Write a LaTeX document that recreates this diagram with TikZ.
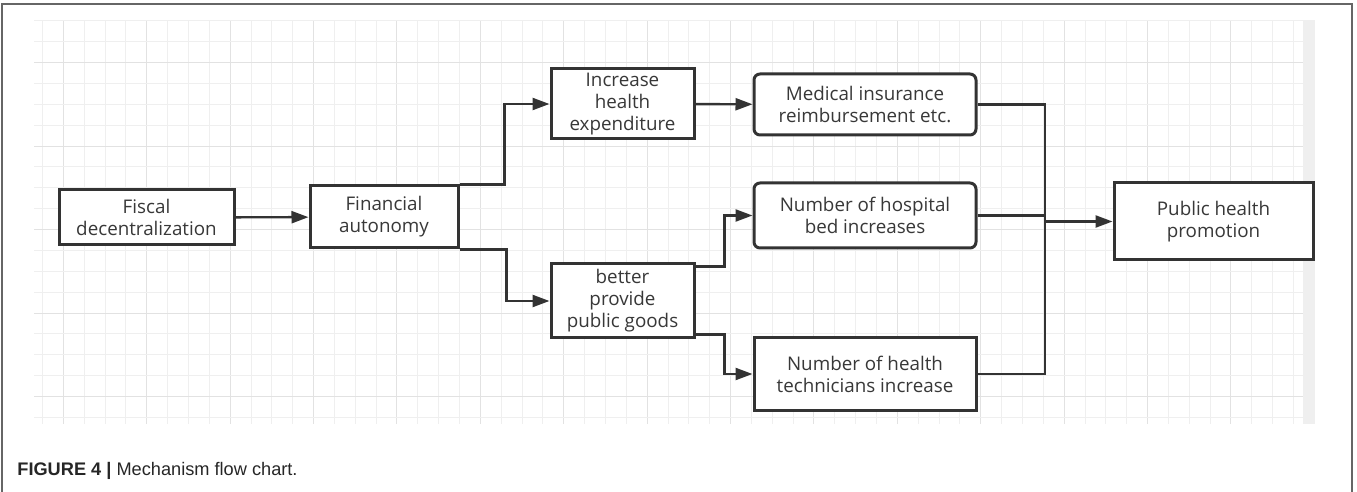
\documentclass[tikz,border=0pt]{standalone}
\usepackage{fontspec}
\setmainfont{Open Sans}
\newfontfamily\capfont{Liberation Sans}
\usetikzlibrary{arrows.meta,calc}
\definecolor{ink}{HTML}{333333}
\definecolor{txt}{HTML}{383838}
\definecolor{gridminor}{HTML}{EFEFEF}
\definecolor{gridmajor}{HTML}{E2E2E2}
\begin{document}
\begin{tikzpicture}[
    x=0.5pt, y=-0.5pt,
    font=\fontsize{9.4}{11}\selectfont,
    box/.style={draw=ink, line width=1.5pt, fill=white, text=txt, align=center, inner sep=0pt,
      minimum width=111pt, minimum height=32pt},
    rbox/.style={box, rounded corners=3pt},
    wire/.style={draw=ink, line width=1.2pt},
    arr/.style={wire, -{Triangle[length=8.5pt, width=6pt]}},
  ]
  \useasboundingbox (0,0) rectangle (1357,492);
  % frame and grid paper
  \draw[gray!80!black, line width=0.75pt] (2,492) -- (2,4) -- (1352,4) -- (1352,492);
  \fill[gridminor] (1303,20) rectangle (1315,424);
  \foreach \i in {0,...,60} {
    \pgfmathsetmacro{\gx}{42.5+20.85*\i}
    \pgfmathtruncatemacro{\maj}{mod(\i+3,4)==0}
    \ifnum\maj=1 \def\gc{gridmajor}\else\def\gc{gridminor}\fi
    \draw[\gc, line width=0.5pt] (\gx,20) -- (\gx,424);
  }
  \foreach \j in {0,...,19} {
    \pgfmathsetmacro{\gy}{20.9+20.87*\j}
    \pgfmathtruncatemacro{\maj}{mod(\j+2,4)==0}
    \ifnum\maj=1 \def\gc{gridmajor}\else\def\gc{gridminor}\fi
    \draw[\gc, line width=0.5pt] (34,\gy) -- (1303,\gy);
  }

  % boxes
  \node[box, minimum width=87.5pt, minimum height=27.5pt] (fiscal) at (146.5,217.5) {Fiscal\\decentralization};
  \node[box, minimum width=74pt, minimum height=31pt] (auton) at (384,217) {Financial\\autonomy};
  \node[box, minimum width=71.5pt, minimum height=35pt] (spend) at (622.5,104) {Increase\\health\\expenditure};
  \node[box, minimum width=71.5pt, minimum height=37pt] (goods) at (622.5,301) {better\\provide\\public goods};
  \node[rbox, minimum height=30.5pt] (insur) at (865,104.5) {Medical insurance\\reimbursement etc.};
  \node[rbox, minimum height=32.5pt] (beds) at (865,215.5) {Number of hospital\\bed increases};
  \node[box, minimum height=36pt] (techs) at (865,374) {Number of health\\technicians increase};
  \node[box, minimum width=99.5pt, minimum height=38.5pt] (promo) at (1213.5,221.5) {Public health\\promotion};
  \coordinate (merge) at (1045,0);

  % connectors
  \draw[arr] (fiscal) -- (auton);
  \draw[arr] (auton.north east) -- ++(45,0) |- (spend.west);
  \draw[arr] (auton.south east) -- ++(47,0) |- (goods.west);
  \draw[arr] (spend) -- (insur);
  \draw[arr] ([yshift=-2pt]goods.north east) -- ++(29,0) |- (beds.west);
  \draw[arr] ([yshift=2.5pt]goods.south east) -- ++(29,0) |- (techs.west);
  \draw[wire] (insur.east) -| (merge |- techs.east) -- (techs.east);
  \draw[wire] (beds.east) -- (merge |- beds.east);
  \draw[arr] (merge |- promo.west) -- (promo.west);

  % caption
  \node[anchor=base west, inner sep=0pt, font=\capfont\fontsize{9.1}{10}\selectfont, text=black!85] (caption) at (17,475)
    {\textbf{FIGURE 4 |} Mechanism flow chart.};
\end{tikzpicture}
\end{document}
